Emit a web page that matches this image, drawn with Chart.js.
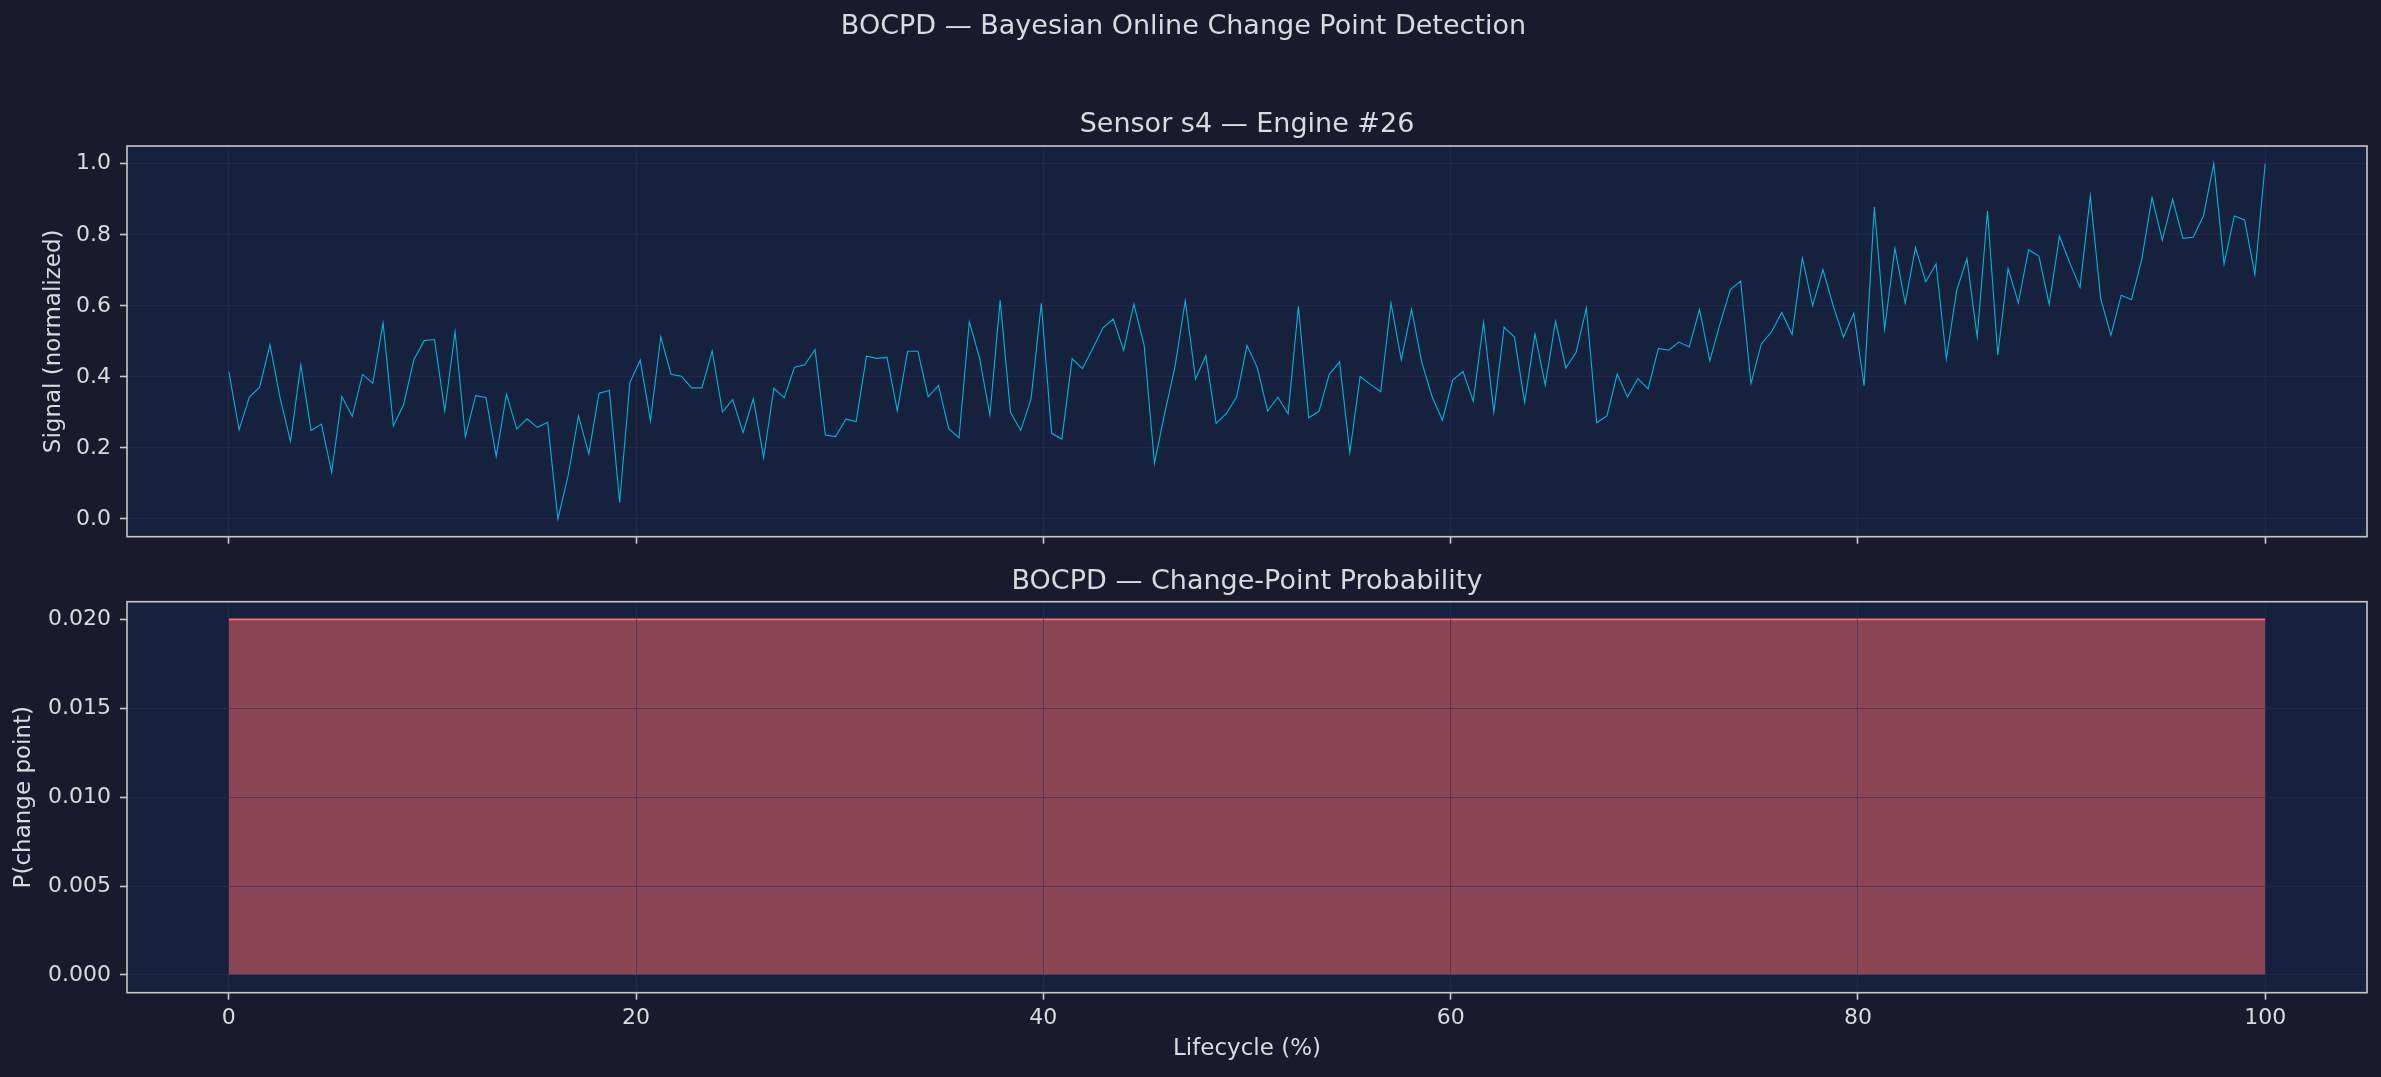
<!DOCTYPE html>
<html><head><meta charset="utf-8">
<script src="https://cdn.jsdelivr.net/npm/chart.js@4.4.1/dist/chart.umd.min.js"></script>
<style>
html,body{margin:0;padding:0;background:#1a1a2e;width:2381px;height:1077px;overflow:hidden;}
canvas{position:absolute;left:0;}
#c1{top:0;width:2381px;height:559px;}
#c2{top:550px;width:2381px;height:527px;}
</style></head><body>
<canvas id="c1" width="2381" height="559"></canvas>
<canvas id="c2" width="2381" height="527"></canvas>
<script>
// ---- data ----
const signal = [
0.415,0.251,0.343,0.371,0.491,0.339,0.218,0.434,0.249,0.267,
0.131,0.344,0.289,0.407,0.382,0.552,0.262,0.322,0.449,0.502,
0.505,0.304,0.527,0.231,0.347,0.342,0.176,0.351,0.253,0.282,
0.258,0.272,0.000,0.123,0.290,0.183,0.354,0.362,0.046,0.384,
0.447,0.276,0.513,0.407,0.402,0.369,0.369,0.473,0.301,0.336,
0.243,0.339,0.172,0.368,0.341,0.427,0.434,0.477,0.236,0.232,
0.281,0.274,0.458,0.452,0.455,0.304,0.472,0.472,0.344,0.376,
0.254,0.228,0.555,0.453,0.292,0.616,0.300,0.249,0.337,0.607,
0.241,0.225,0.451,0.423,0.480,0.538,0.563,0.475,0.605,0.489,
0.157,0.297,0.429,0.615,0.394,0.460,0.269,0.297,0.344,0.488,
0.426,0.304,0.343,0.296,0.599,0.285,0.303,0.407,0.442,0.187,
0.401,0.379,0.358,0.608,0.448,0.590,0.440,0.344,0.278,0.391,
0.415,0.331,0.554,0.301,0.540,0.512,0.328,0.521,0.377,0.557,
0.425,0.469,0.594,0.271,0.290,0.408,0.343,0.395,0.366,0.480,
0.475,0.498,0.484,0.590,0.445,0.550,0.646,0.670,0.381,0.492,
0.527,0.581,0.519,0.735,0.600,0.702,0.600,0.512,0.579,0.375,
0.878,0.535,0.762,0.608,0.764,0.668,0.718,0.451,0.643,0.733,
0.512,0.867,0.461,0.705,0.608,0.758,0.740,0.604,0.796,0.721,
0.652,0.910,0.621,0.517,0.630,0.617,0.731,0.905,0.785,0.900,
0.790,0.793,0.853,1.000,0.718,0.853,0.842,0.688,1.000
];
const changeProb = [
0.02,0.02,0.02,0.02,0.02,0.02,0.02,0.02,0.02,0.02,0.02,0.02,0.02,0.02,0.02,0.02,0.02,0.02,0.02,0.02,
0.02,0.02,0.02,0.02,0.02,0.02,0.02,0.02,0.02,0.02,0.02,0.02,0.02,0.02,0.02,0.02,0.02,0.02,0.02,0.02,
0.02,0.02,0.02,0.02,0.02,0.02,0.02,0.02,0.02,0.02,0.02,0.02,0.02,0.02,0.02,0.02,0.02,0.02,0.02,0.02,
0.02,0.02,0.02,0.02,0.02,0.02,0.02,0.02,0.02,0.02,0.02,0.02,0.02,0.02,0.02,0.02,0.02,0.02,0.02,0.02,
0.02,0.02,0.02,0.02,0.02,0.02,0.02,0.02,0.02,0.02,0.02,0.02,0.02,0.02,0.02,0.02,0.02,0.02,0.02,0.02,
0.02,0.02,0.02,0.02,0.02,0.02,0.02,0.02,0.02,0.02,0.02,0.02,0.02,0.02,0.02,0.02,0.02,0.02,0.02,0.02,
0.02,0.02,0.02,0.02,0.02,0.02,0.02,0.02,0.02,0.02,0.02,0.02,0.02,0.02,0.02,0.02,0.02,0.02,0.02,0.02,
0.02,0.02,0.02,0.02,0.02,0.02,0.02,0.02,0.02,0.02,0.02,0.02,0.02,0.02,0.02,0.02,0.02,0.02,0.02,0.02,
0.02,0.02,0.02,0.02,0.02,0.02,0.02,0.02,0.02,0.02,0.02,0.02,0.02,0.02,0.02,0.02,0.02,0.02,0.02,0.02,
0.02,0.02,0.02,0.02,0.02,0.02,0.02,0.02,0.02,0.02,0.02,0.02,0.02,0.02,0.02,0.02,0.02,0.02,0.02
];
const xTicks = [0, 20, 40, 60, 80, 100];
const signalTicks = [0, 0.2, 0.4, 0.6, 0.8, 1.0];
const probTicks = [0, 0.005, 0.010, 0.015, 0.020];
const suptitleText = 'BOCPD — Bayesian Online Change Point Detection';
const topTitleText = 'Sensor s4 — Engine #26';
const bottomTitleText = 'BOCPD — Change-Point Probability';
const topYLabel = 'Signal (normalized)';
const bottomYLabel = 'P(change point)';
const xLabel = 'Lifecycle (%)';

// lifecycle position of each sample (evenly spaced 0..100 %)
const lifecycle = signal.map((_, i) => i * 100 / (signal.length - 1));

// ---- style ----
const FONT = 'DejaVu Sans';
const TEXT = '#d9d9de';
const SPINE = '#c8c8c8';
const GRID = 'rgba(52,42,88,0.55)';
const FACE = '#16213e';
Chart.defaults.font.family = FONT;
Chart.defaults.color = TEXT;

const facePlugin = {
  id: 'face',
  beforeDraw(chart) {
    const {ctx, chartArea: a} = chart;
    ctx.save(); ctx.fillStyle = FACE;
    ctx.fillRect(a.left, a.top, a.right - a.left, a.bottom - a.top);
    ctx.restore();
  },
  afterDraw(chart) {
    const {ctx, chartArea: a} = chart;
    ctx.save(); ctx.strokeStyle = SPINE; ctx.lineWidth = 1.6;
    ctx.strokeRect(a.left, a.top, a.right - a.left, a.bottom - a.top);
    ctx.restore();
  }
};

function xScale(showLabels, height, gridZ) {
  return {
    type: 'linear', min: -5, max: 105,
    afterBuildTicks: s => { s.ticks = xTicks.map(v => ({value: v})); },
    afterFit: s => { s.height = height; },
    border: {display: false},
    grid: {color: GRID, lineWidth: 1, drawTicks: true, tickLength: 7, tickColor: SPINE, tickWidth: 1.6, z: gridZ},
    ticks: {display: showLabels, color: TEXT, font: {size: 22}, padding: 5, maxRotation: 0,
            callback: v => String(v)},
    title: {display: showLabels, text: xLabel, color: TEXT, font: {size: 23}, padding: {top: 0, bottom: 14.2}}
  };
}

// ---- top chart ----
new Chart(document.getElementById('c1'), {
  type: 'line',
  data: {
    datasets: [{
      data: signal.map((v, i) => ({x: lifecycle[i], y: v})),
      borderColor: '#00b4d8', borderWidth: 1.1, pointRadius: 0, tension: 0, fill: false
    }]
  },
  options: {
    responsive: false, animation: false, devicePixelRatio: 1,
    layout: {padding: {left: 0, right: 14, top: 0, bottom: 0}},
    plugins: {
      legend: {display: false}, tooltip: {enabled: false},
      title: {display: true, text: suptitleText, color: TEXT, font: {size: 27, weight: 'normal'},
              padding: {top: 10.3, bottom: 0}},
      subtitle: {display: true, text: topTitleText, fullSize: false, color: TEXT,
                 font: {size: 27, weight: 'normal'}, padding: {top: 66.4, bottom: 4.5}}
    },
    scales: {
      x: xScale(false, 22.3, 0),
      y: {
        min: -0.05, max: 1.05,
        afterBuildTicks: s => { s.ticks = signalTicks.map(v => ({value: v})); },
        afterFit: s => { s.width = 127; },
        border: {display: false},
        grid: {color: GRID, lineWidth: 1, tickLength: 7, tickColor: SPINE, tickWidth: 1.6},
        ticks: {color: TEXT, font: {size: 22}, padding: 9, callback: v => Number(v).toFixed(1)},
        title: {display: true, text: topYLabel, color: TEXT, font: {size: 23}, padding: {top: 39.8, bottom: 0}}
      }
    }
  },
  plugins: [facePlugin]
});

// ---- bottom chart ----
new Chart(document.getElementById('c2'), {
  type: 'line',
  data: {
    datasets: [{
      data: changeProb.map((v, i) => ({x: lifecycle[i], y: v})),
      borderColor: '#ff6b6b', borderWidth: 1.8, pointRadius: 0, tension: 0,
      fill: 'origin', backgroundColor: 'rgba(255,107,107,0.5)'
    }]
  },
  options: {
    responsive: false, animation: false, devicePixelRatio: 1,
    layout: {padding: {left: 0, right: 14, top: 0, bottom: 0}},
    plugins: {
      legend: {display: false}, tooltip: {enabled: false},
      title: {display: true, text: bottomTitleText, fullSize: false, color: TEXT,
              font: {size: 27, weight: 'normal'}, padding: {top: 15.6, bottom: 3.7}}
    },
    scales: {
      x: xScale(true, 84.3, 1),
      y: {
        min: -0.001, max: 0.021,
        afterBuildTicks: s => { s.ticks = probTicks.map(v => ({value: v})); },
        afterFit: s => { s.width = 127; },
        border: {display: false},
        grid: {color: c => (c.tick && Math.abs(c.tick.value - 0.02) < 1e-9) ? 'rgba(0,0,0,0)' : GRID,
               lineWidth: 1, tickLength: 7, tickColor: SPINE, tickWidth: 1.6, z: 1},
        ticks: {color: TEXT, font: {size: 22}, padding: 9, callback: v => Number(v).toFixed(3)},
        title: {display: true, text: bottomYLabel, color: TEXT, font: {size: 23}, padding: {top: 10.3, bottom: 0}}
      }
    }
  },
  plugins: [facePlugin]
});
</script>
</body></html>
